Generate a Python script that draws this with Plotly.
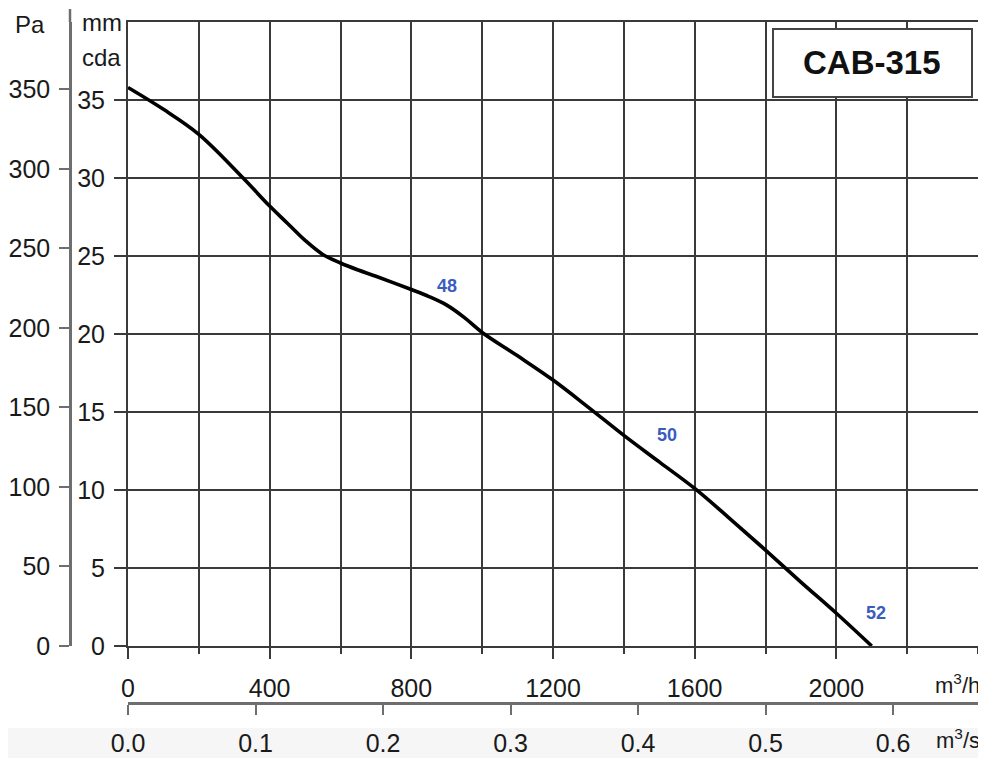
import plotly.graph_objects as go

# ---- data ----
flow_m3h = [0, 100, 200, 325, 400, 450, 500, 550, 600, 650, 700, 800, 850, 900, 950,
            1000, 1100, 1200, 1300, 1400, 1500, 1600, 1700, 1800, 1900, 2000, 2100]
pressure_mm = [35.8, 34.4, 32.8, 30.0, 28.2, 27.1, 26.0, 25.1, 24.55, 24.1, 23.7,
               22.85, 22.4, 21.85, 21.05, 20.1, 18.6, 17.05, 15.3, 13.5, 11.8, 10.1,
               8.15, 6.15, 4.1, 2.1, 0.0]

noise_labels = ["48", "50", "52"]
noise_x = [900, 1521, 2112]
noise_y = [23.1, 13.5, 2.1]

m3h_ticks = [0, 400, 800, 1200, 1600, 2000]
m3h_ticktext = ["0", "400", "800", "1200", "1600", "2000"]
m3s_ticks = [0.0, 0.1, 0.2, 0.3, 0.4, 0.5, 0.6]
m3s_ticktext = ["0.0", "0.1", "0.2", "0.3", "0.4", "0.5", "0.6"]
mm_ticks = [0, 5, 10, 15, 20, 25, 30, 35]
pa_ticks = [0, 50, 100, 150, 200, 250, 300, 350]

X_MAX = 2400
Y_MAX = 40
PA_MAX = Y_MAX * 9.81
MS_MAX = X_MAX / 3600

title_text = "CAB-315"

# ---- geometry (page pixels; the page body adds an 8px offset) ----
OFF = 8
WF, HF = 986 - OFF, 758 - OFF
ML, MR, MT, MB = 10 - OFF, 8, 22 - OFF, 10
PW, PH = WF - ML - MR, HF - MT - MB


def px_x(p):
    return (p - OFF - ML) / PW


def px_y(p):
    return (HF - MB - (p - OFF)) / PH


FONT = "Liberation Sans, Arial, sans-serif"
FS = 25
GRID = "#3a3a3a"
AXC = "#6e6e6e"
BLUE = "#3a5cbf"
TXT = "#1a1a1a"

fig = go.Figure()

fig.add_trace(go.Scatter(
    x=flow_m3h, y=pressure_mm, mode="lines",
    line=dict(color="black", width=3.6, shape="spline", smoothing=1.0),
    showlegend=False, hoverinfo="skip"))

# dummy trace for secondary axes
fig.add_trace(go.Scatter(x=[None], y=[None], xaxis="x2", yaxis="y2",
                         showlegend=False, hoverinfo="skip"))

for t, xv, yv in zip(noise_labels, noise_x, noise_y):
    fig.add_annotation(x=xv, y=yv, xref="x", yref="y", text="<b>%s</b>" % t,
                       showarrow=False, xanchor="center", yanchor="middle",
                       font=dict(family=FONT, size=18, color=BLUE))

fig.update_layout(
    width=WF, height=HF,
    margin=dict(l=ML, r=MR, t=MT, b=MB, autoexpand=False),
    paper_bgcolor="white", plot_bgcolor="white",
    font=dict(family=FONT, size=FS, color=TXT),
    xaxis=dict(
        domain=[px_x(128), px_x(978)], range=[0, X_MAX], automargin=False,
        tickvals=m3h_ticks, ticktext=m3h_ticktext,
        ticks="outside", ticklen=11, tickwidth=2, tickcolor=GRID,
        showgrid=True, gridcolor=GRID, gridwidth=2,
        minor=dict(dtick=200, tick0=0, ticks="outside", ticklen=6, tickwidth=2,
                   tickcolor=GRID, showgrid=True, gridcolor=GRID, gridwidth=2),
        showline=True, linecolor=GRID, linewidth=2, mirror=True,
        zeroline=False, ticklabelstandoff=8,
        tickfont=dict(family=FONT, size=FS, color=TXT),
    ),
    yaxis=dict(
        domain=[px_y(646), px_y(22)], range=[0, Y_MAX], automargin=False,
        tickvals=mm_ticks, ticks="outside", ticklen=12, tickwidth=2, tickcolor=GRID,
        showgrid=True, gridcolor=GRID, gridwidth=2,
        showline=True, linecolor=GRID, linewidth=2, mirror=True,
        zeroline=False, ticklabelstandoff=4,
        tickfont=dict(family=FONT, size=FS, color=TXT),
    ),
    yaxis2=dict(
        overlaying="y", anchor="free", position=px_x(70), side="left",
        range=[0, PA_MAX], tickvals=pa_ticks, automargin=False,
        ticks="outside", ticklen=10, tickwidth=2, tickcolor=AXC,
        showline=True, linecolor=AXC, linewidth=2.5,
        showgrid=False, zeroline=False, ticklabelstandoff=4,
        tickfont=dict(family=FONT, size=FS, color=TXT),
    ),
    xaxis2=dict(
        overlaying="x", anchor="free", position=px_y(703), side="bottom",
        range=[0, MS_MAX], tickvals=m3s_ticks, ticktext=m3s_ticktext,
        automargin=False,
        ticks="outside", ticklen=10, tickwidth=2, tickcolor=AXC,
        showline=True, linecolor=AXC, linewidth=2.5,
        showgrid=False, zeroline=False, ticklabelstandoff=7,
        tickfont=dict(family=FONT, size=FS, color=TXT),
    ),
)

# Pa axis extension above plot top
fig.add_shape(type="line", xref="paper", yref="paper",
              x0=px_x(70), x1=px_x(70), y0=px_y(9), y1=px_y(22),
              line=dict(color=AXC, width=2.5))

# light grey strip at the bottom of the picture
fig.add_shape(type="rect", xref="paper", yref="paper",
              x0=px_x(OFF), x1=px_x(986), y0=px_y(758), y1=px_y(728),
              fillcolor="#f6f6f6", line=dict(width=0), layer="below")

# title box
fig.add_shape(type="rect", xref="paper", yref="paper",
              x0=px_x(773), x1=px_x(972), y0=px_y(97), y1=px_y(29),
              fillcolor="white", line=dict(color="#444444", width=2), layer="above")
fig.add_annotation(x=px_x(872), y=px_y(63), xref="paper", yref="paper",
                   text="<b>%s</b>" % title_text, showarrow=False,
                   xanchor="center", yanchor="middle",
                   font=dict(family=FONT, size=33, color="#111111"))

# axis unit labels
units = [("Pa", 30, 24, "center"), ("mm", 102, 22, "center"), ("cda", 101, 58, "center")]
for txt, ux, uy, anc in units:
    fig.add_annotation(x=px_x(ux), y=px_y(uy), xref="paper", yref="paper",
                       text=txt, showarrow=False, xanchor=anc, yanchor="middle",
                       font=dict(family=FONT, size=24, color=TXT))
units_bottom = [("m<sup>3</sup>/h", 982, 684), ("m<sup>3</sup>/s", 982, 739)]
for txt, ux, uy in units_bottom:
    fig.add_annotation(x=px_x(ux), y=px_y(uy), xref="paper", yref="paper",
                       text=txt, showarrow=False, xanchor="right", yanchor="middle",
                       font=dict(family=FONT, size=22, color=TXT))

fig.write_html("out.html")
